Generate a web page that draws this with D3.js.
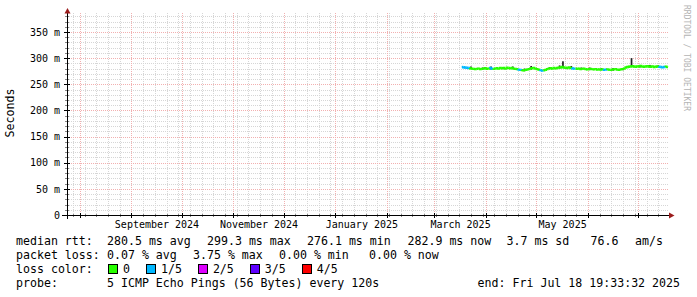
<!DOCTYPE html>
<html lang="en">
<head>
<meta charset="utf-8" />
<title>Smokeping latency</title>
<script src="https://d3js.org/d3.v7.min.js"></script>
<style>
  body { margin: 0; background: #fff; }
  svg text { font-family: "DejaVu Sans Mono", monospace; fill: #000; }
  .axis text { font-size: 10px; }
  .legend text { font-size: 11.6px; white-space: pre; }
</style>
</head>
<body>
<script>
// median rtt per day in ms, from 2025-03-17
const medianMs = [
  283, 282.5, 282, 281.5, 281, 280.5, 280, 279.5,
  279, 279.5, 280, 279, 279.5, 280, 280.5, 279.5, 280, 281, 280, 279.5, 280, 280.5, 280,
  281, 280.5, 281, 280, 281.5, 281, 280.5, 281, 280,
  279.5, 279, 278, 277.5,
  277, 276.5, 277.5, 278, 279,
  280, 280.5, 281, 280, 279, 278,
  277, 276.1, 276.5, 277.5, 279,
  280, 280.5, 280, 281, 280.5, 281, 281.5,
  282, 283, 282, 281.5, 281, 282, 281, 280.5, 280,
  280, 279.5, 280, 279, 279.5, 280, 279, 278.5, 279, 279.5, 279, 278.5, 279, 278, 278.5,
  278, 278.5, 277.5, 278, 278.5, 278, 277.5, 278, 278.5, 279, 278, 277.5, 278.5, 279, 280,
  282, 283, 283.5, 284, 284.5, 284, 283.5, 284, 284.5, 285, 284, 283.5, 284, 284.5, 284,
  283.5, 284, 283, 283.5, 284, 283.5, 283, 282.5, 283, 283.5, 282.9
];
// days with 1 of 5 pings lost
const lossDays = [0, 1, 2, 3, 4, 17, 18, 34, 35, 47, 48, 66, 67, 85, 86, 118, 119, 120, 121];
// smoke (ping spread) on a few days
const smokeDays = [5, 12, 17, 24, 30, 37, 41, 52, 58, 60, 65, 71, 76, 83, 90, 96, 101, 106, 112, 117];
const smokeLow = [279, 278, 278, 279, 279, 275, 278, 279, 280, 281, 280, 278, 277, 277, 276, 277, 283, 282, 282, 282];
const smokeHigh = [284, 282, 284, 283, 284, 280, 285, 283, 286, 294, 285, 282, 282, 281, 281, 281, 300, 287, 287, 286];

const yTicks = [0, 50, 100, 150, 200, 250, 300, 350];
const labelMonths = ["2024-09", "2024-11", "2025-01", "2025-03", "2025-05"];

const lossLabels = ["0", "1/5", "2/5", "3/5", "4/5"];
const lossColors = ["#26ff00", "#00b8ff", "#dd00ff", "#5e00ff", "#ff0000"];

const rttStats = ["median rtt:", "280.5 ms avg", "299.3 ms max", "276.1 ms min", "282.9 ms now", "3.7 ms sd", "76.6", "am/s"];
const lossStats = ["packet loss:", "0.07 % avg", "3.75 % max", "0.00 % min", "0.00 % now"];
const probeText = ["probe:", "5 ICMP Echo Pings (56 Bytes) every 120s"];
const endText = "end: Fri Jul 18 19:33:32 2025";

const W = 697, H = 297;
const day = 86400000;
const tStart = new Date(Date.UTC(2024, 6, 24, 12, 0, 0));
const tEnd = new Date(Date.UTC(2025, 6, 18, 19, 33, 32));
const dataStart = Date.UTC(2025, 2, 17, 12);

const svg = d3.select("body").append("svg").attr("width", W).attr("height", H);

const x = d3.scaleUtc().domain([tStart, tEnd]).range([67, 668]);
const y = d3.scaleLinear().domain([0, 386.3]).range([215, 13]);
const px = (v) => Math.round(v) + 0.5;

// grid
const grid = svg.append("g").attr("shape-rendering", "crispEdges").attr("stroke-dasharray", "1,1");
const minorY = d3.range(10, 390, 10).filter((v) => v % 50 !== 0);
grid.selectAll(".hmin").data(minorY).join("line")
  .attr("x1", 67).attr("x2", 668).attr("y1", (d) => px(y(d))).attr("y2", (d) => px(y(d)))
  .attr("stroke", "#d6d6d6");
grid.selectAll(".vmin").data(d3.utcSunday.range(tStart, tEnd)).join("line")
  .attr("y1", 13).attr("y2", 215).attr("x1", (d) => px(x(d))).attr("x2", (d) => px(x(d)))
  .attr("stroke", "#d6d6d6");
grid.selectAll(".hmaj").data(yTicks.slice(1)).join("line")
  .attr("x1", 67).attr("x2", 668).attr("y1", (d) => px(y(d))).attr("y2", (d) => px(y(d)))
  .attr("stroke", "#f2b0b0");
grid.selectAll(".vmaj").data(d3.utcMonth.range(tStart, tEnd)).join("line")
  .attr("y1", 13).attr("y2", 215).attr("x1", (d) => px(x(d))).attr("x2", (d) => px(x(d)))
  .attr("stroke", "#f2b0b0");

// smoke
const dayDate = (i) => new Date(dataStart + i * day);
svg.append("g").selectAll("rect").data(smokeDays).join("rect")
  .attr("x", (d) => x(dayDate(d)))
  .attr("width", 1.7)
  .attr("y", (d, i) => y(smokeHigh[i]))
  .attr("height", (d, i) => y(smokeLow[i]) - y(smokeHigh[i]))
  .attr("fill", "#222");

// median line coloured by loss
const loss = medianMs.map((m, i) => (lossDays.includes(i) ? 1 : 0));
svg.append("g").selectAll("path").data(medianMs).join("path")
  .attr("d", (m, i) => {
    const x0 = x(dayDate(i));
    const x1 = x(new Date(Math.min(+dayDate(i + 1), +tEnd)));
    const yp = y(i > 0 ? medianMs[i - 1] : m);
    return `M${x0},${yp}V${y(m)}H${x1}`;
  })
  .attr("fill", "none")
  .attr("stroke", (m, i) => lossColors[loss[i]])
  .attr("stroke-width", 2.4);

// axes
const yAxis = svg.append("g").attr("class", "axis").attr("transform", "translate(67,0)")
  .call(d3.axisLeft(y).tickValues(yTicks).tickSize(0).tickPadding(7)
    .tickFormat((d) => (d === 0 ? "0" : d + " m")));
yAxis.select(".domain").remove();
yAxis.selectAll("text").attr("font-family", null).attr("font-size", null);

const monthMid = labelMonths.map((s) => {
  const a = d3.utcParse("%Y-%m")(s);
  const b = d3.utcMonth.offset(a, 1);
  return new Date((+a + +b) / 2);
});
const xAxis = svg.append("g").attr("class", "axis").attr("transform", "translate(0,215)")
  .call(d3.axisBottom(x).tickValues(monthMid).tickSize(0).tickPadding(6)
    .tickFormat(d3.utcFormat("%B %Y")));
xAxis.select(".domain").remove();
xAxis.selectAll("text").attr("font-family", null).attr("font-size", null);

// axis lines, ticks and arrows
const ax = svg.append("g").attr("shape-rendering", "crispEdges");
ax.selectAll(".yt").data(d3.range(0, 390, 10)).join("line")
  .attr("x1", (d) => (d % 50 === 0 ? 64 : 65)).attr("x2", (d) => (d % 50 === 0 ? 70 : 69))
  .attr("y1", (d) => px(y(d))).attr("y2", (d) => px(y(d)))
  .attr("stroke", (d) => (d % 50 === 0 ? "#000" : "#888"));
ax.selectAll(".xt").data(d3.utcSunday.range(tStart, tEnd)).join("line")
  .attr("x1", (d) => px(x(d))).attr("x2", (d) => px(x(d)))
  .attr("y1", 214).attr("y2", 217).attr("stroke", "#888");
ax.selectAll(".xm").data(d3.utcMonth.range(tStart, tEnd)).join("line")
  .attr("x1", (d) => px(x(d))).attr("x2", (d) => px(x(d)))
  .attr("y1", 213).attr("y2", 218).attr("stroke", "#000");
ax.append("line").attr("x1", 62).attr("x2", 670).attr("y1", 215.5).attr("y2", 215.5).attr("stroke", "#000");
ax.append("line").attr("x1", 67.5).attr("x2", 67.5).attr("y1", 219).attr("y2", 11).attr("stroke", "#000");
svg.append("polygon").attr("points", "64.5,13.5 70.5,13.5 67.5,8").attr("fill", "#9b1c1c");
svg.append("polygon").attr("points", "669,212.5 669,218.5 674.5,215.5").attr("fill", "#9b1c1c");

// titles
svg.append("text").attr("transform", "translate(14,113) rotate(-90)")
  .attr("text-anchor", "middle").attr("font-size", 11.6).text("Seconds");
svg.append("text").attr("transform", "translate(684,5) rotate(90)")
  .attr("font-size", 8).style("fill", "#b4b4b4").text("RRDTOOL / TOBI OETIKER");

// legend
const lg = svg.append("g").attr("class", "legend");
const rttX = [16, 107, 207, 307, 407.5, 506.5, 590.5, 635];
lg.selectAll(".r1").data(rttStats).join("text")
  .attr("x", (d, i) => rttX[i]).attr("y", 245).text((d) => d);
const lossX = [16, 107, 193, 279, 369];
lg.selectAll(".r2").data(lossStats).join("text")
  .attr("x", (d, i) => lossX[i]).attr("y", 259).text((d) => d);
lg.append("text").attr("x", 16).attr("y", 273).text("loss color:");
let bx = 108;
lossLabels.forEach((lab, i) => {
  lg.append("rect").attr("x", bx + 0.5).attr("y", 264.5).attr("width", 9).attr("height", 9)
    .attr("fill", lossColors[i]).attr("stroke", "#000").attr("shape-rendering", "crispEdges");
  lg.append("text").attr("x", bx + 15).attr("y", 273).text(lab);
  bx += 10 + 5 + lab.length * 6.97 + 16;
});
lg.append("text").attr("x", 16).attr("y", 287).text(probeText[0]);
lg.append("text").attr("x", 107).attr("y", 287).text(probeText[1]);
lg.append("text").attr("x", 680).attr("y", 287).attr("text-anchor", "end").text(endText);
</script>
</body>
</html>
